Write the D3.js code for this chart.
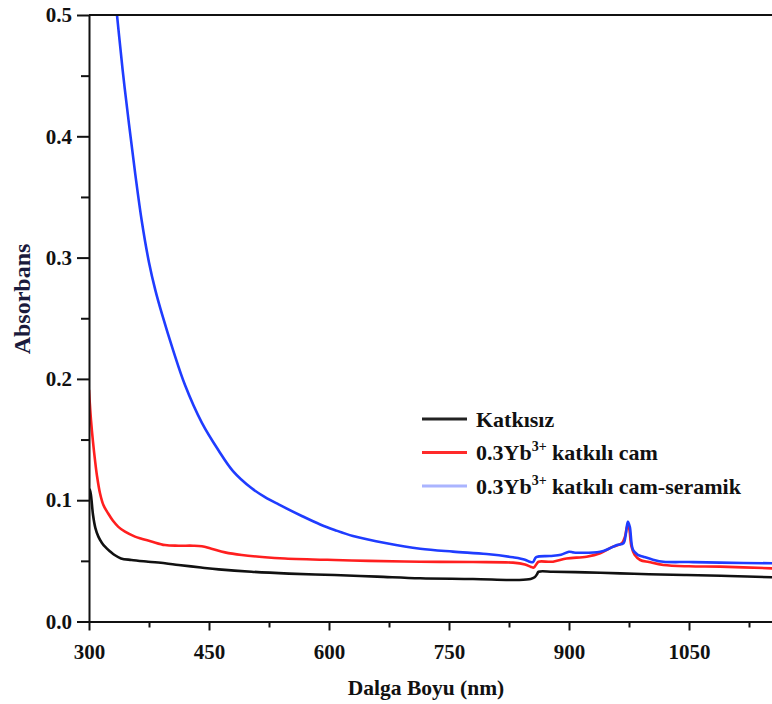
<!DOCTYPE html>
<html>
<head>
<meta charset="utf-8">
<script src="https://cdn.jsdelivr.net/npm/d3@7"></script>
<style>
  body { margin: 0; background: #fff; }
</style>
</head>
<body>
<div id="chart"></div>
<script>
const width = 772,
      height = 704,
      margin = { top: 15, right: 0, bottom: 82.5, left: 89 };

const innerWidth = width - (margin.right + margin.left),
      innerHeight = height - (margin.top + margin.bottom);

const fontFamily = '"Liberation Serif", "Times New Roman", Times, serif';

// Katkısız (undoped)
const blackNm  = [300, 301, 302.5, 305, 308, 311.7, 316, 320, 326, 332, 340, 353, 374, 395, 412, 440, 462, 503, 550, 607, 660, 714, 780, 838, 852, 857, 860, 862, 880, 920, 964, 1000, 1047, 1100, 1155];
const blackAbs = [0.105, 0.109, 0.104, 0.088, 0.077, 0.070, 0.065, 0.0617, 0.058, 0.0548, 0.052, 0.0507, 0.0493, 0.048, 0.0466, 0.0445, 0.043, 0.041, 0.0395, 0.0383, 0.037, 0.0356, 0.035, 0.0342, 0.035, 0.0364, 0.039, 0.041, 0.041, 0.0405, 0.0397, 0.039, 0.0383, 0.0375, 0.0364];

// 0.3Yb3+ katkılı cam
const redNm  = [300, 301, 302.5, 305, 307.5, 310, 313.75, 318, 324, 330, 336.7, 345, 357.5, 378, 395, 412, 430, 441, 453, 470, 491, 520, 545, 607, 650, 714, 780, 830, 845, 852, 856, 860, 862, 880, 897, 922, 939, 955, 966, 970, 973, 975, 978, 982, 989, 1000, 1018, 1050, 1089, 1155];
const redAbs = [0.191, 0.18, 0.166, 0.148, 0.133, 0.12, 0.1057, 0.096, 0.089, 0.083, 0.078, 0.074, 0.070, 0.066, 0.063, 0.0625, 0.0625, 0.062, 0.060, 0.057, 0.0548, 0.053, 0.052, 0.0507, 0.050, 0.0493, 0.049, 0.0485, 0.047, 0.0452, 0.0445, 0.048, 0.0493, 0.0493, 0.052, 0.0534, 0.0562, 0.0617, 0.0645, 0.070, 0.079, 0.077, 0.062, 0.055, 0.0507, 0.049, 0.0466, 0.0455, 0.0452, 0.0438];

// 0.3Yb3+ katkılı cam-seramik
const blueNm  = [328, 335, 342, 350, 358, 366, 375, 383, 391, 405, 420, 441, 462, 480, 503, 520, 537, 566, 589, 607, 630, 672, 714, 755, 797, 830, 845, 851, 855, 859, 876, 890, 900, 905, 910, 939, 950, 960, 968, 971, 973.5, 976, 980, 986, 993, 1005, 1018, 1050, 1089, 1155];
const blueAbs = [0.545, 0.500, 0.455, 0.410, 0.368, 0.330, 0.296, 0.273, 0.254, 0.224, 0.195, 0.164, 0.141, 0.124, 0.110, 0.1025, 0.0965, 0.0870, 0.0800, 0.0755, 0.0705, 0.0645, 0.060, 0.0576, 0.0556, 0.0529, 0.051, 0.0493, 0.049, 0.053, 0.054, 0.055, 0.0575, 0.057, 0.0567, 0.0575, 0.060, 0.063, 0.0645, 0.072, 0.0823, 0.078, 0.059, 0.055, 0.0534, 0.051, 0.0493, 0.049, 0.0485, 0.048];

const seriesNames = ['Katkısız', '0.3Yb3+ katkılı cam', '0.3Yb3+ katkılı cam-seramik'];
const lineColors = ['#111111', '#ff1f1f', '#1f3cff'];
const legendColors = ['#222222', '#ff2a2a', '#aab4ff'];

const xMajor = [300, 450, 600, 750, 900, 1050],
      xMinor = [375, 525, 675, 825, 975, 1125],
      yMajor = [0, 0.1, 0.2, 0.3, 0.4, 0.5],
      yMinor = [0.05, 0.15, 0.25, 0.35, 0.45];

const svg = d3.select('#chart').append('svg')
    .attr('width', width)
    .attr('height', height)
    .style('font-family', fontFamily);

const plot = svg.append('g')
    .attr('transform', `translate(${margin.left}, ${margin.top})`);

const xScale = d3.scaleLinear()
    .domain([300, 300 + innerWidth / 0.8])
    .range([0, innerWidth]);
const yScale = d3.scaleLinear()
    .domain([0, 0.5])
    .range([innerHeight, 0]);

svg.append('defs').append('clipPath').attr('id', 'clip')
  .append('rect')
    .attr('width', innerWidth)
    .attr('height', innerHeight);

const series = [
  { nm: blackNm, abs: blackAbs },
  { nm: redNm, abs: redAbs },
  { nm: blueNm, abs: blueAbs }
].map((s, i) => ({ color: lineColors[i], points: s.nm.map((n, j) => [n, s.abs[j]]) }));

const line = d3.line()
    .x(d => xScale(d[0]))
    .y(d => yScale(d[1]))
    .curve(d3.curveCatmullRom.alpha(0.5));

plot.append('g')
    .attr('clip-path', 'url(#clip)')
  .selectAll('path')
  .data(series)
  .enter().append('path')
    .attr('fill', 'none')
    .attr('stroke', d => d.color)
    .attr('stroke-width', 2.6)
    .attr('stroke-linejoin', 'round')
    .attr('d', d => line(d.points));

// axes
function styleAxis(g) {
  g.attr('font-family', null);
  g.select('.domain').attr('stroke', '#111').attr('stroke-width', 2);
  g.selectAll('.tick line').attr('stroke', '#111').attr('stroke-width', 2);
  g.selectAll('text')
      .attr('fill', '#111')
      .style('font-family', fontFamily)
      .style('font-weight', 'bold')
      .style('font-size', '21px');
}

plot.append('g')
    .call(d3.axisLeft(yScale).tickValues(yMinor).tickSize(8))
    .call(styleAxis)
    .call(g => g.select('.domain').remove())
    .call(g => g.selectAll('text').remove());
plot.append('g')
    .call(d3.axisLeft(yScale).tickValues(yMajor).tickSize(12).tickSizeOuter(0).tickPadding(5).tickFormat(d3.format('.1f')))
    .call(styleAxis);

plot.append('g')
    .attr('transform', `translate(0, ${innerHeight})`)
    .call(d3.axisBottom(xScale).tickValues(xMinor).tickSize(6))
    .call(styleAxis)
    .call(g => g.select('.domain').remove())
    .call(g => g.selectAll('text').remove());
plot.append('g')
    .attr('transform', `translate(0, ${innerHeight})`)
    .call(d3.axisBottom(xScale).tickValues(xMajor).tickSize(9).tickSizeOuter(0).tickPadding(14).tickFormat(d3.format('d')))
    .call(styleAxis);

// top frame line
plot.append('line')
    .attr('x1', 0).attr('x2', innerWidth)
    .attr('y1', 0).attr('y2', 0)
    .attr('stroke', '#111').attr('stroke-width', 2);

// axis titles
svg.append('text')
    .attr('x', 426)
    .attr('y', 695)
    .attr('text-anchor', 'middle')
    .style('font-family', fontFamily)
    .style('font-weight', 'bold')
    .style('font-size', '21.5px')
    .attr('fill', '#111')
    .text('Dalga Boyu (nm)');

svg.append('text')
    .attr('transform', 'translate(30, 299) rotate(-90)')
    .attr('text-anchor', 'middle')
    .style('font-family', fontFamily)
    .style('font-weight', 'bold')
    .style('font-size', '24px')
    .attr('fill', '#1a1a3c')
    .text('Absorbans');

// legend
const legend = svg.append('g');
const legendRows = legend.selectAll('g')
  .data(seriesNames)
  .enter().append('g')
    .attr('transform', (d, i) => `translate(422, ${419 + i * 33.5})`);

legendRows.append('line')
    .attr('x1', 0).attr('x2', 45)
    .attr('stroke', (d, i) => legendColors[i])
    .attr('stroke-width', 3);

legendRows.append('text')
    .attr('x', 54)
    .attr('y', 7.5)
    .style('font-family', fontFamily)
    .style('font-weight', 'bold')
    .style('font-size', '22px')
    .attr('fill', '#111')
    .each(function(d) {
      const t = d3.select(this);
      const m = d.match(/^(0\.3Yb)(3\+)(.*)$/);
      if (!m) { t.text(d); return; }
      t.append('tspan').text(m[1]);
      t.append('tspan').attr('dy', -9).style('font-size', '14px').text(m[2]);
      t.append('tspan').attr('dy', 9).text(m[3]);
    });
</script>
</body>
</html>
